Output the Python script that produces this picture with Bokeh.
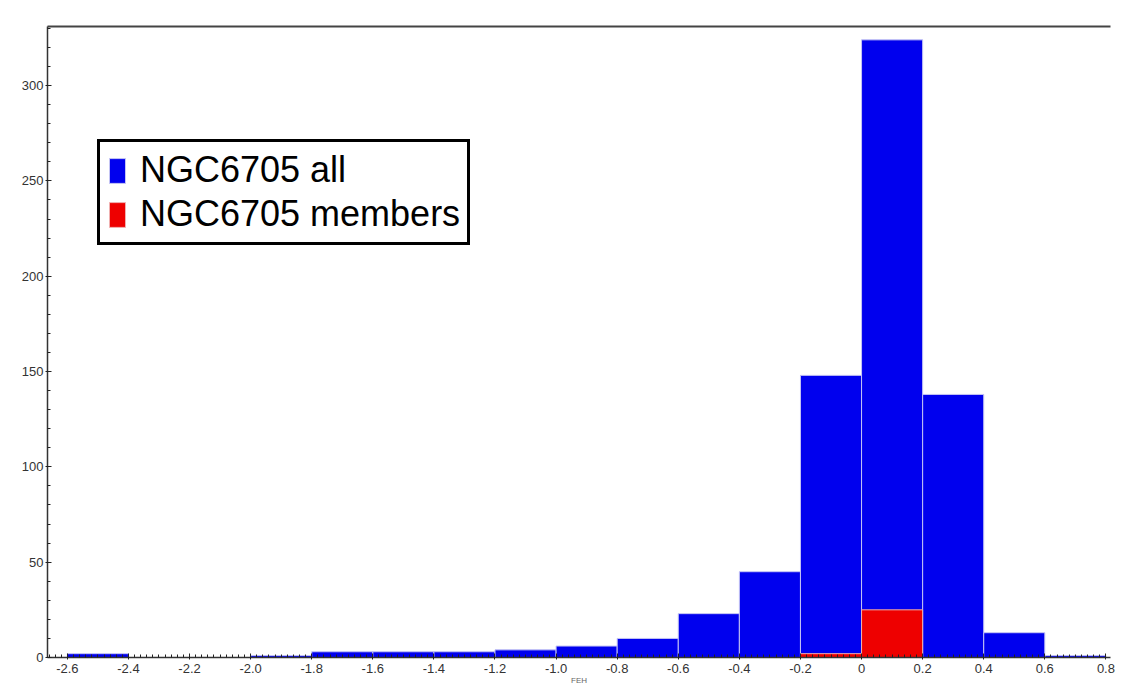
import numpy as np
from bokeh.plotting import figure
from bokeh.models import (ColumnDataSource, Range1d, FixedTicker, LinearAxis,
                          Legend, LegendItem)
from bokeh.embed import file_html
from bokeh.resources import INLINE

# ---- data -------------------------------------------------------------
bin_left = [-2.6, -2.4, -2.2, -2.0, -1.8, -1.6, -1.4, -1.2, -1.0,
            -0.8, -0.6, -0.4, -0.2, 0.0, 0.2, 0.4, 0.6]
bin_width = 0.2
all_counts = [2, 0, 0, 1, 3, 3, 3, 4, 6, 10, 23, 45, 148, 324, 138, 13, 1]
member_counts = [0, 0, 0, 0, 0, 0, 0, 0, 0, 0, 0, 0, 2, 25, 0, 0, 0]

x_ticks = [-2.6, -2.4, -2.2, -2.0, -1.8, -1.6, -1.4, -1.2, -1.0, -0.8,
           -0.6, -0.4, -0.2, 0.0, 0.2, 0.4, 0.6, 0.8]
x_tick_labels = ["-2.6", "-2.4", "-2.2", "-2.0", "-1.8", "-1.6", "-1.4",
                 "-1.2", "-1.0", "-0.8", "-0.6", "-0.4", "-0.2", "0",
                 "0.2", "0.4", "0.6", "0.8"]
y_ticks = [0, 50, 100, 150, 200, 250, 300]

series_names = ["NGC6705 all", "NGC6705 members"]
series_colors = ["#0000ee", "#ee0000"]

# ---- figure -----------------------------------------------------------
p = figure(width=1116, height=687, output_backend="svg",
           toolbar_location=None,
           x_range=Range1d(-2.665, 0.815), y_range=Range1d(0, 331),
           min_border_left=47, min_border_right=6, min_border_top=26,
           min_border_bottom=30)
p.xgrid.visible = False
p.ygrid.visible = False
p.outline_line_color = None
p.background_fill_color = "white"

right_edges = [l + bin_width for l in bin_left]
src_all = ColumnDataSource(dict(left=bin_left, right=right_edges,
                                top=all_counts, bottom=[0] * len(bin_left)))
src_mem = ColumnDataSource(dict(left=bin_left, right=right_edges,
                                top=member_counts, bottom=[0] * len(bin_left)))

r_all = p.quad(left="left", right="right", top="top", bottom="bottom",
               source=src_all, fill_color=series_colors[0],
               line_color="#c4c4f4", line_width=1)
r_mem = p.quad(left="left", right="right", top="top", bottom="bottom",
               source=src_mem, fill_color=series_colors[1],
               line_color="#f0b0b0", line_width=1)

# ---- axes -------------------------------------------------------------
minor_x = [round(v, 2) for v in np.arange(-2.66, 0.815, 0.02)]
xa = p.xaxis[0]
xa.ticker = FixedTicker(ticks=x_ticks, minor_ticks=minor_x)
xa.major_label_overrides = {t: lab for t, lab in zip(x_ticks, x_tick_labels)}
xa.axis_label = "FEH"
xa.axis_label_text_font_size = "8px"
xa.axis_label_text_font_style = "normal"
xa.axis_label_text_color = "#666666"
xa.axis_label_standoff = 0

ya = p.yaxis[0]
ya.ticker = FixedTicker(ticks=y_ticks,
                        minor_ticks=list(range(0, 331, 10)))

for ax in (xa, ya):
    ax.axis_line_color = "#333333"
    ax.axis_line_width = 1.5
    ax.major_tick_line_color = "#222222"
    ax.minor_tick_line_color = "#222222"
    ax.major_tick_in = 4
    ax.major_tick_out = 2
    ax.minor_tick_in = 3
    ax.minor_tick_out = 0
    ax.major_label_text_font = "Liberation Sans"
    ax.major_label_text_font_size = "13px"
    ax.major_label_text_color = "#333333"

xa.major_label_standoff = 4
ya.major_label_standoff = 2

top_axis = LinearAxis(ticker=FixedTicker(ticks=[]), major_label_text_font_size="0px",
                      axis_line_color="#444444", axis_line_width=2,
                      major_tick_line_color=None, minor_tick_line_color=None)
p.add_layout(top_axis, "above")

# ---- legend -----------------------------------------------------------
legend = Legend(items=[LegendItem(label=series_names[0], renderers=[r_all]),
                       LegendItem(label=series_names[1], renderers=[r_mem])],
                location=(50, 412), margin=0, padding=7, spacing=2,
                glyph_width=20, glyph_height=31, label_standoff=13,
                label_text_font="Liberation Sans", label_text_font_size="36px",
                label_text_color="black",
                border_line_color="black", border_line_width=3,
                border_line_alpha=1.0,
                background_fill_color="white", background_fill_alpha=1)
p.add_layout(legend)

open("out.html", "w").write(file_html(p, INLINE))
